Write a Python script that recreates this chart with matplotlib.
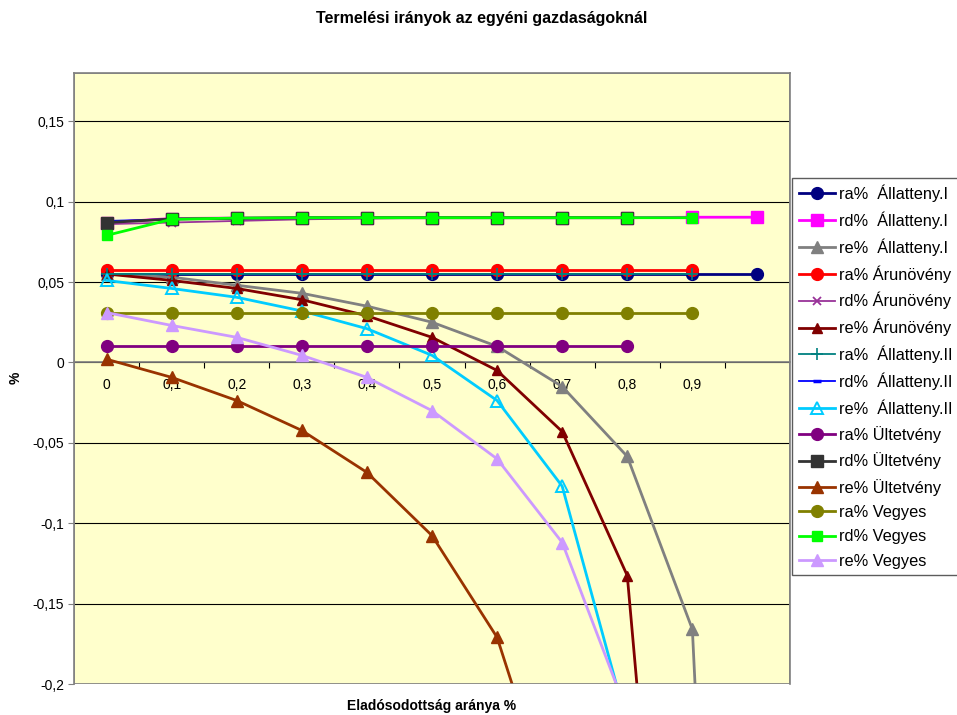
import matplotlib
matplotlib.use("Agg")
import matplotlib.pyplot as plt
import numpy as np
from matplotlib.ticker import FixedLocator, FuncFormatter
from matplotlib.patches import Rectangle

plt.rcParams['font.family'] = ['Liberation Sans', 'DejaVu Sans']

# Eladósodottság aránya (kategóriák)
categories = ['0', '0,1', '0,2', '0,3', '0,4', '0,5', '0,6', '0,7', '0,8', '0,9', '']
n = len(categories)
nan = np.nan

ra_all1 = [0.055, 0.055, 0.055, 0.055, 0.055, 0.055, 0.055, 0.055, 0.055, 0.055, 0.055]
rd_all1 = [0.087, 0.0895, 0.0898, 0.09, 0.09, 0.09, 0.09, 0.09, 0.09, 0.0903, 0.0903]
re_all1 = [0.055, 0.053, 0.048, 0.043, 0.035, 0.025, 0.010, -0.015, -0.0585, -0.166, -1.0]

ra_aru = [0.0573, 0.0573, 0.0573, 0.0573, 0.0573, 0.0573, 0.0573, 0.0573, 0.0573, 0.0573, nan]
rd_aru = [0.086, 0.087, 0.088, 0.089, 0.0895, 0.09, 0.09, 0.09, 0.09, 0.09, nan]
re_aru = [0.055, 0.051, 0.046, 0.039, 0.029, 0.0156, -0.005, -0.043, -0.1326, -0.59, nan]

ra_all2 = [0.0553, 0.0553, 0.0553, 0.0553, 0.0553, 0.0553, 0.0553, 0.0553, 0.0553, 0.0553, nan]
rd_all2 = [0.088, 0.089, 0.0895, 0.09, 0.09, 0.09, 0.09, 0.09, 0.09, 0.09, nan]
re_all2 = [0.051, 0.046, 0.0405, 0.032, 0.021, 0.0044, -0.0237, -0.077, -0.225, nan, nan]

ra_ult = [0.010, 0.010, 0.010, 0.010, 0.010, 0.010, 0.010, 0.010, 0.010, nan, nan]
rd_ult = [0.087, 0.0892, 0.0896, 0.09, 0.09, 0.09, 0.09, 0.09, 0.09, nan, nan]
re_ult = [0.002, -0.0093, -0.0237, -0.0423, -0.0684, -0.1077, -0.171, -0.297, nan, nan, nan]

ra_veg = [0.031, 0.031, 0.031, 0.031, 0.031, 0.031, 0.031, 0.031, 0.031, 0.031, nan]
rd_veg = [0.079, 0.089, 0.0898, 0.09, 0.09, 0.09, 0.09, 0.09, 0.09, 0.09, nan]
re_veg = [0.031, 0.023, 0.0156, 0.0044, -0.0093, -0.030, -0.060, -0.112, -0.218, nan, nan]

x = np.arange(n)

fig = plt.figure(figsize=(9.57, 7.15), dpi=100)
ax = fig.add_axes([74 / 957, 1 - 684 / 715, 716 / 957, 611 / 715])
ax.set_facecolor('#FFFFCC')

ax.set_xlim(-0.5, n - 0.5)
ax.set_ylim(-0.2, 0.18)

# vízszintes rácsvonalak
yticks = [-0.2, -0.15, -0.1, -0.05, 0, 0.05, 0.1, 0.15]
ax.yaxis.set_major_locator(FixedLocator(yticks))
ax.yaxis.set_major_formatter(FuncFormatter(lambda v, p: f"{v:g}".replace('.', ',')))
ax.grid(axis='y', color='black', linewidth=0.8)
ax.set_axisbelow(True)
ax.tick_params(axis='y', direction='out', length=4, labelsize=10, pad=3, color='#808080')

# kategória tengely a nullánál
ax.spines['bottom'].set_position(('data', 0))
ax.spines['bottom'].set_color('#808080')
ax.spines['bottom'].set_linewidth(1.2)
for s in ['left', 'top', 'right']:
    ax.spines[s].set_color('#808080')
    ax.spines[s].set_linewidth(1.2)
ax.add_patch(Rectangle((0, 0), 1, 1, transform=ax.transAxes, fill=False,
                       edgecolor='#808080', linewidth=1.2, zorder=5))

ax.xaxis.set_major_locator(FixedLocator(np.arange(0.5, n - 1, 1)))
ax.xaxis.set_major_formatter(FuncFormatter(lambda v, p: ''))
ax.xaxis.set_minor_locator(FixedLocator(x))
ax.xaxis.set_minor_formatter(FuncFormatter(lambda v, p: categories[int(round(v))]))
ax.tick_params(axis='x', which='major', direction='out', length=4, color='black')
ax.tick_params(axis='x', which='minor', length=0, labelsize=10, pad=11)

lw = 2.0
series = [
    (ra_all1, 'ra%  Állatteny.I', dict(color='#000080', marker='o', ms=8.5, lw=lw)),
    (rd_all1, 'rd%  Állatteny.I', dict(color='#FF00FF', marker='s', ms=8.5, lw=lw)),
    (re_all1, 're%  Állatteny.I', dict(color='#808080', marker='^', ms=8, lw=lw)),
    (ra_aru, 'ra% Árunövény', dict(color='#FF0000', marker='o', ms=8.5, lw=lw)),
    (rd_aru, 'rd% Árunövény', dict(color='#993399', marker='x', ms=6, lw=1.3, mew=1.3)),
    (re_aru, 're% Árunövény', dict(color='#800000', marker='^', ms=7, lw=lw)),
    (ra_all2, 'ra%  Állatteny.II', dict(color='#008080', marker='+', ms=8, lw=1.3, mew=1.2)),
    (rd_all2, 'rd%  Állatteny.II', dict(color='#0000FF', marker='_', ms=6, lw=1.3, mew=2.5)),
    (re_all2, 're%  Állatteny.II', dict(color='#00CCFF', marker='^', ms=8, lw=lw, mfc='none', mew=1.4)),
    (ra_ult, 'ra% Ültetvény', dict(color='#800080', marker='o', ms=8.5, lw=lw)),
    (rd_ult, 'rd% Ültetvény', dict(color='#333333', marker='s', ms=8.5, lw=lw)),
    (re_ult, 're% Ültetvény', dict(color='#993300', marker='^', ms=8, lw=lw)),
    (ra_veg, 'ra% Vegyes', dict(color='#808000', marker='o', ms=8.5, lw=lw)),
    (rd_veg, 'rd% Vegyes', dict(color='#00FF00', marker='s', ms=7, lw=lw)),
    (re_veg, 're% Vegyes', dict(color='#CC99FF', marker='^', ms=8, lw=lw)),
]
for vals, label, st in series:
    ax.plot(x, vals, label=label, zorder=3, **st)

leg = fig.legend(loc='upper left', bbox_to_anchor=(792 / 957, 1 - 178 / 715),
                 borderaxespad=0, fontsize=11.8, frameon=True, fancybox=False,
                 handlelength=2.25, handletextpad=0.2, labelspacing=0.57,
                 borderpad=0.4)
leg.get_frame().set_edgecolor('#333333')
leg.get_frame().set_linewidth(1.0)

fig.text(0.503, 1 - 19 / 715, 'Termelési irányok az egyéni gazdaságoknál',
         ha='center', va='center', fontsize=11.5, fontweight='bold')
fig.text(432 / 957, 1 - 706 / 715, 'Eladósodottság aránya %',
         ha='center', va='center', fontsize=10, fontweight='bold')
fig.text(16 / 957, 1 - 378 / 715, '%', rotation=90,
         ha='center', va='center', fontsize=10, fontweight='bold')

fig.savefig('out.png', dpi=100)
